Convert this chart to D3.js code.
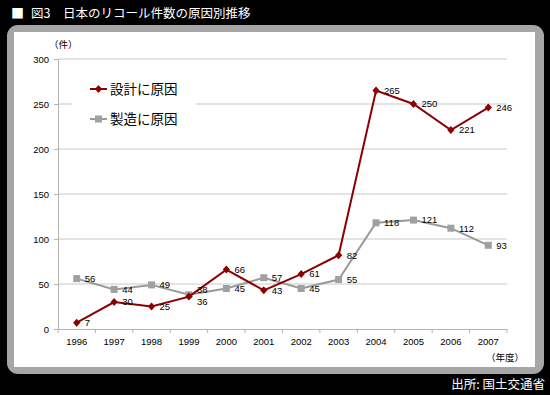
<!DOCTYPE html>
<html><head><meta charset="utf-8">
<script src="https://cdn.jsdelivr.net/npm/d3@7"></script>
<style>body{margin:0;background:#000;}svg{display:block;}</style>
</head><body>
<svg id="c" width="550" height="395"></svg>
<script>
const years = ["1996","1997","1998","1999","2000","2001","2002","2003","2004","2005","2006","2007"];
const design = [7,30,25,36,66,43,61,82,265,250,221,246];
const manufacture = [56,44,49,38,45,57,45,55,118,121,112,93];
const yTicks = [0,50,100,150,200,250,300];
const seriesNames = ["設計に原因","製造に原因"];
const title = "図3　日本のリコール件数の原因別推移";
const source = "出所: 国土交通省";

const svg = d3.select("#c");
const JP = "'Noto Sans CJK JP', 'Liberation Sans', sans-serif";
const LS = "'Liberation Sans', Arial, sans-serif";

svg.append("rect").attr("width",550).attr("height",395).attr("fill","#000");
svg.append("text").attr("x",11).attr("y",18).attr("fill","#fff").attr("font-family",JP).attr("font-size",13).text("■");
svg.append("text").attr("x",31).attr("y",18).attr("fill","#fff").attr("font-family",JP).attr("font-size",12.5).text(title);

svg.append("rect").attr("x",7).attr("y",25).attr("width",537).attr("height",349).attr("rx",11).attr("fill","#a6a6a6");
svg.append("rect").attr("x",14).attr("y",32).attr("width",521).attr("height",335).attr("fill","#fff");

svg.append("text").attr("x",545).attr("y",389).attr("text-anchor","end").attr("fill","#fff").attr("font-family",JP).attr("font-size",12.5).text(source);

const x = d3.scaleBand().domain(years).range([58,507]);
const y = d3.scaleLinear().domain([0,300]).range([329,59]);

// gridlines
svg.append("g").selectAll("line").data(yTicks.filter(d=>d>0)).join("line")
  .attr("x1",58).attr("x2",507).attr("y1",d=>y(d)).attr("y2",d=>y(d))
  .attr("stroke","#c8c8c8").attr("stroke-width",1);

// y axis
const ya = svg.append("g").attr("transform","translate(58,0)")
  .call(d3.axisLeft(y).tickValues(yTicks).tickSize(4).tickPadding(5));
ya.select(".domain").attr("stroke","#b4b4b4");
ya.selectAll(".tick line").attr("stroke","#b4b4b4");
ya.selectAll("text").attr("font-family",LS).attr("font-size",9.5).attr("fill","#000");

// x axis
const xa = svg.append("g").attr("transform","translate(0,329)")
  .call(d3.axisBottom(x).tickSize(0).tickPadding(9));
xa.select(".domain").attr("stroke","#b4b4b4");
xa.selectAll("text").attr("font-family",LS).attr("font-size",9.5).attr("fill","#000");
svg.append("g").selectAll("line").data(years.concat(["end"])).join("line")
  .attr("x1",(d,i)=>58+i*x.step()).attr("x2",(d,i)=>58+i*x.step())
  .attr("y1",329).attr("y2",333).attr("stroke","#b4b4b4");

svg.append("text").attr("x",49).attr("y",48).attr("font-family",JP).attr("font-size",9.5).text("（件）");
svg.append("text").attr("x",524).attr("y",361).attr("text-anchor","end").attr("font-family",JP).attr("font-size",9.5).text("（年度）");

const cx = d => x(d)+x.bandwidth()/2;
const line = d3.line().x((d,i)=>cx(years[i])).y(d=>y(d));

// legend box (covers gridline)
svg.append("rect").attr("x",72).attr("y",70).attr("width",124).attr("height",64).attr("fill","#fff");

const diamond = "M0,-4L3.6,0L0,4L-3.6,0Z";

// manufacture series
svg.append("path").datum(manufacture).attr("d",line).attr("fill","none").attr("stroke","#999").attr("stroke-width",2);
svg.append("g").selectAll("rect").data(manufacture).join("rect")
  .attr("x",(d,i)=>cx(years[i])-3.5).attr("y",d=>y(d)-3.5).attr("width",7).attr("height",7).attr("fill","#a0a0a0");
// design series
svg.append("path").datum(design).attr("d",line).attr("fill","none").attr("stroke","#8b0000").attr("stroke-width",2);
svg.append("g").selectAll("path").data(design).join("path")
  .attr("d",diamond).attr("transform",(d,i)=>`translate(${cx(years[i])},${y(d)})`).attr("fill","#8b0000");

// labels
function labels(data, nudge){
  svg.append("g").selectAll("text").data(data).join("text")
    .attr("x",(d,i)=>cx(years[i])+8).attr("y",(d,i)=>y(d)+(nudge[i]||0)).attr("dy","0.35em")
    .attr("font-family",LS).attr("font-size",9.5).attr("fill","#000").text(d=>d);
}
labels(manufacture, {3:-5});
labels(design, {3:5});

// legend
const lg = [{name:seriesNames[0],c:"#8b0000",sym:"d"},{name:seriesNames[1],c:"#999",sym:"s"}];
lg.forEach((d,i)=>{
  const yy = 89 + i*30;
  svg.append("line").attr("x1",90).attr("x2",107).attr("y1",yy).attr("y2",yy).attr("stroke",d.c).attr("stroke-width",2);
  if(d.sym==="d") svg.append("path").attr("d",diamond).attr("transform",`translate(98.5,${yy})`).attr("fill",d.c);
  else svg.append("rect").attr("x",95).attr("y",yy-3.5).attr("width",7).attr("height",7).attr("fill","#a0a0a0");
  svg.append("text").attr("x",110).attr("y",yy).attr("dy","0.38em").attr("font-family",JP).attr("font-size",13.5).attr("fill","#000").text(d.name);
});
</script>
</body></html>
